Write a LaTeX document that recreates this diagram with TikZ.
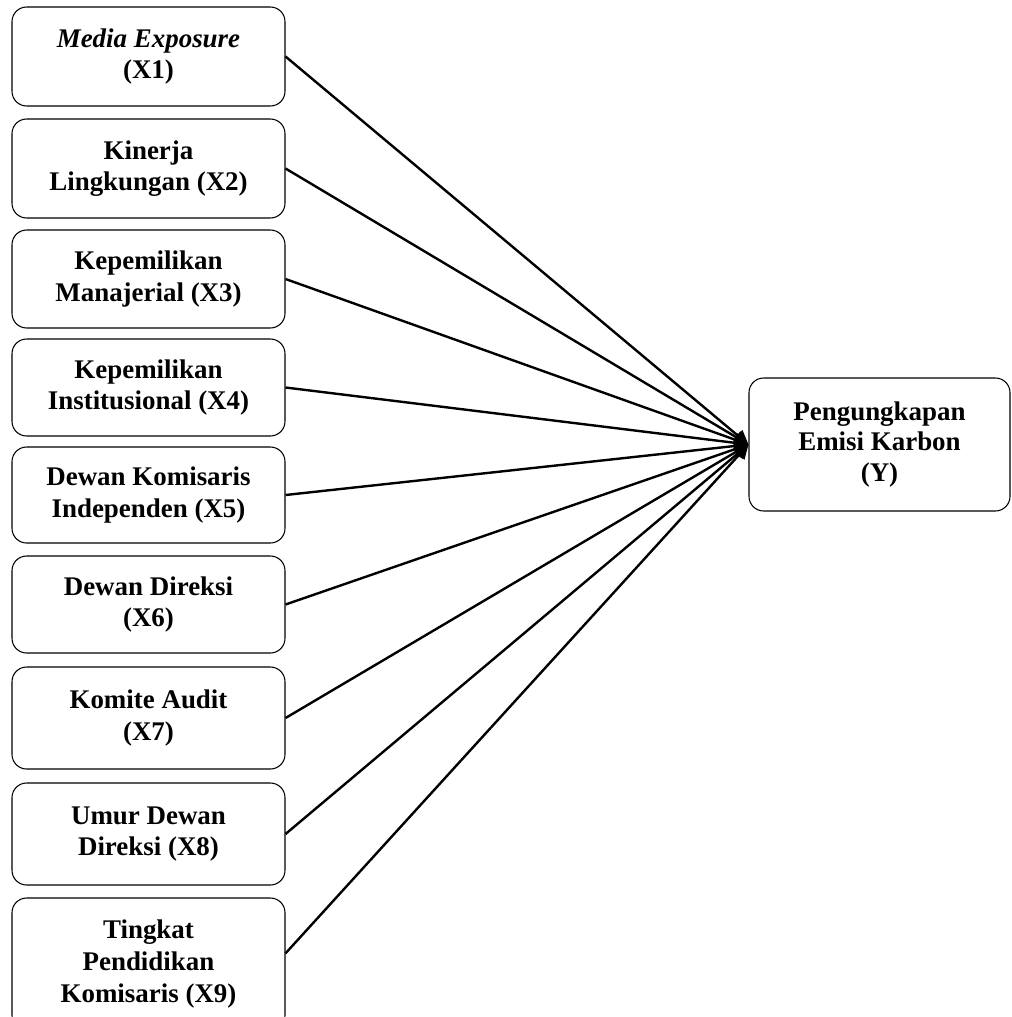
\documentclass[tikz,border=0pt]{standalone}
\usepackage{fontspec}
\setmainfont{Liberation Serif}
\usetikzlibrary{arrows.meta}
\begin{document}
\begin{tikzpicture}[x=0.75pt,y=-0.75pt,
  varbox/.style={draw=black,line width=0.8pt,rounded corners=11pt,align=center,inner sep=0pt,
    font=\fontsize{20.2}{23.8}\selectfont\bfseries,minimum width=204.75pt},
  link/.style={line width=1.8pt,-{Triangle[length=10.5pt,width=10.5pt]}}]
\clip (0,0) rectangle (1011,1017);
\node[varbox,minimum height=74.25pt] (x1) at (148.5,56.5) {\textit{Media Exposure}\\(X1)};
\node[varbox,minimum height=74.25pt] (x2) at (148.5,168.5) {Kinerja\\Lingkungan (X2)};
\node[varbox,minimum height=73.5pt] (x3) at (148.5,279) {Kepemilikan\\Manajerial (X3)};
\node[varbox,minimum height=72.75pt] (x4) at (148.5,387.5) {Kepemilikan\\Institusional (X4)};
\node[varbox,minimum height=72pt] (x5) at (148.5,495) {Dewan Komisaris\\Independen (X5)};
\node[varbox,minimum height=72.75pt] (x6) at (148.5,604.5) {Dewan Direksi\\(X6)};
\node[varbox,minimum height=76.5pt] (x7) at (148.5,718) {Komite Audit\\(X7)};
\node[varbox,minimum height=76.5pt] (x8) at (148.5,834) {Umur Dewan\\Direksi (X8)};
\node[varbox,minimum height=99pt] (x9) at (148.5,964) {Tingkat\\Pendidikan\\Komisaris (X9)};
\node[varbox,minimum width=195.75pt,minimum height=99.75pt,font=\fontsize{20.2}{23pt}\selectfont\bfseries] (y) at (879.5,444.5) {Pengungkapan\\Emisi Karbon\\(Y)};
\foreach \n in {x1,x2,x3,x4,x5,x6,x7,x8}
  \draw[link] (\n.east) -- (y.west);
\draw[link] ([yshift=8pt]x9.east) -- (y.west);
\end{tikzpicture}
\end{document}
